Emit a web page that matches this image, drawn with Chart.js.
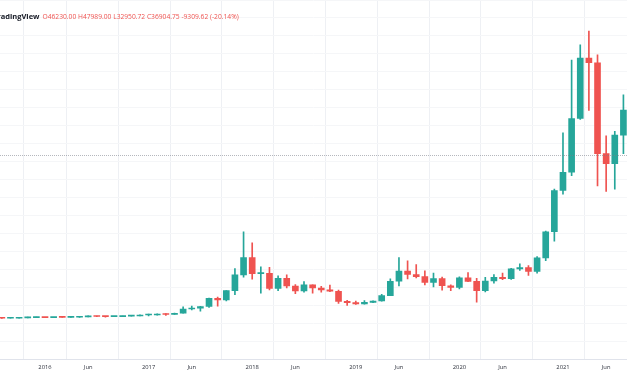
<!DOCTYPE html>
<html>
<head>
<meta charset="utf-8">
<script src="https://cdn.jsdelivr.net/npm/chart.js@4.4.0/dist/chart.umd.min.js"></script>
<style>
  html, body { margin: 0; padding: 0; background: #fff; }
  #wrap { position: relative; width: 627px; height: 376px; overflow: hidden; }
  #head { position: absolute; left: -7px; top: 2px; white-space: nowrap; font-family: "Open Sans", sans-serif; }
  #head .logo { font-size: 7.5px; font-weight: bold; color: #131722; }
  #head .ohlc { font-size: 6.7px; color: #ef5350; margin-left: 3px; }
</style>
</head>
<body>
<div id="wrap">
  <canvas id="btcChart" width="627" height="376"></canvas>
  <div id="head"><span class="logo">TradingView</span><span class="ohlc">O46230.00 H47989.00 L32950.72 C36904.75 -9309.62 (-20.14%)</span></div>
</div>
<script>
// monthly BTCUSD candles, Aug 2015 - Aug 2021
var months = [
  '2015-08','2015-09','2015-10','2015-11','2015-12',
  '2016-01','2016-02','2016-03','2016-04','2016-05','2016-06','2016-07','2016-08','2016-09','2016-10','2016-11','2016-12',
  '2017-01','2017-02','2017-03','2017-04','2017-05','2017-06','2017-07','2017-08','2017-09','2017-10','2017-11','2017-12',
  '2018-01','2018-02','2018-03','2018-04','2018-05','2018-06','2018-07','2018-08','2018-09','2018-10','2018-11','2018-12',
  '2019-01','2019-02','2019-03','2019-04','2019-05','2019-06','2019-07','2019-08','2019-09','2019-10','2019-11','2019-12',
  '2020-01','2020-02','2020-03','2020-04','2020-05','2020-06','2020-07','2020-08','2020-09','2020-10','2020-11','2020-12',
  '2021-01','2021-02','2021-03','2021-04','2021-05','2021-06','2021-07','2021-08'
];
var opens = [
  284, 230, 236, 314, 378,
  430, 369, 437, 416, 448, 531, 673, 624, 575, 609, 700, 742,
  963, 968, 1190, 1079, 1350, 2303, 2480, 2875, 4735, 4340, 6440, 10000,
  13880, 10265, 10330, 6925, 9240, 7495, 6390, 7730, 7030, 6625, 6300, 4020,
  3740, 3460, 3810, 4100, 5320, 8560, 10820, 10080, 9600, 8290, 9150, 7540,
  7190, 9350, 8540, 6410, 8620, 9450, 9140, 11330, 11650, 10780, 13800, 19700,
  28990, 33100, 45200, 58800, 57750, 37300, 35040, 41460
];
var highs = [
  287, 245, 334, 495, 466,
  462, 448, 440, 467, 553, 780, 704, 630, 628, 720, 756, 980,
  1154, 1200, 1300, 1365, 2790, 2980, 2920, 4760, 4980, 6470, 11400, 19666,
  17180, 11790, 11710, 9760, 9990, 7780, 8500, 7760, 7410, 7680, 6580, 4240,
  4110, 4200, 4140, 5600, 9080, 13880, 13130, 12330, 10900, 10370, 9510, 7750,
  9570, 10500, 9190, 9460, 10070, 10380, 11440, 12470, 12070, 14100, 19860, 29300,
  41950, 58350, 61780, 64850, 59500, 41300, 42300, 50500
];
var lows = [
  199, 225, 235, 304, 350,
  352, 365, 394, 413, 436, 527, 595, 465, 569, 605, 674, 741,
  752, 932, 891, 1068, 1347, 2080, 1830, 2670, 2970, 4110, 5510, 9500,
  9035, 5880, 6600, 6430, 7030, 5780, 6070, 5880, 6110, 6200, 3560, 3120,
  3350, 3400, 3730, 4070, 5320, 7510, 9070, 9330, 7730, 7300, 6520, 6430,
  6850, 8450, 3850, 6150, 8110, 8900, 8980, 10980, 9880, 10400, 13200, 17600,
  28130, 32300, 45000, 47000, 30000, 28800, 29300, 37300
];
var closes = [
  230, 236, 314, 378, 430,
  369, 437, 416, 448, 531, 673, 624, 575, 609, 700, 742, 963,
  968, 1190, 1079, 1350, 2303, 2480, 2875, 4735, 4340, 6440, 10000, 13880,
  10265, 10330, 6925, 9240, 7495, 6390, 7730, 7030, 6625, 6300, 4020, 3740,
  3460, 3810, 4100, 5320, 8560, 10820, 10080, 9600, 8290, 9150, 7540, 7190,
  9350, 8540, 6410, 8620, 9450, 9140, 11330, 11650, 10780, 13800, 19700, 28990,
  33100, 45200, 58800, 57750, 37300, 35040, 41460, 47100
];
var lastClose = 36904.75;

// time axis labels (month index counted from Jan 2016)
var tickMonths = [0, 5, 12, 17, 24, 29, 36, 41, 48, 53, 60, 65];
var tickLabels = ['2016', 'Jun', '2017', 'Jun', '2018', 'Jun', '2019', 'Jun', '2020', 'Jun', '2021', 'Jun'];

var upColor = '#26a69a';
var downColor = '#ef5350';

function monthIndex(s) {
    var p = s.split('-');
    return (parseInt(p[0]) - 2016) * 12 + parseInt(p[1]) - 1;
}

var xs = months.map(monthIndex);
var candleColors = opens.map((o, i) => closes[i] >= o ? upColor : downColor);

var priceLine = {
    id: 'priceLine',
    afterDatasetsDraw(chart) {
        var ctx = chart.ctx;
        var area = chart.chartArea;
        var y = Math.round(chart.scales.y.getPixelForValue(lastClose)) + 0.5;
        ctx.save();
        ctx.strokeStyle = 'rgba(120, 123, 134, 0.55)';
        ctx.lineWidth = 1;
        ctx.setLineDash([1, 1]);
        ctx.beginPath();
        ctx.moveTo(area.left, y);
        ctx.lineTo(area.right, y);
        ctx.stroke();
        ctx.restore();
    }
};

var ctx = document.getElementById('btcChart').getContext('2d');
var btcChart = new Chart(ctx, {
    type: 'bar',
    data: {
        datasets: [{
            label: 'body',
            data: xs.map((x, i) => ({ x: x, y: [opens[i], closes[i]] })),
            backgroundColor: candleColors,
            barThickness: 6,
            minBarLength: 1,
            grouped: false
        }, {
            label: 'wick',
            data: xs.map((x, i) => ({ x: x, y: [lows[i], highs[i]] })),
            backgroundColor: candleColors,
            barThickness: 1,
            grouped: false
        }]
    },
    options: {
        responsive: false,
        animation: false,
        devicePixelRatio: 1,
        layout: { padding: { left: 0, right: 0, top: 0, bottom: 2 } },
        plugins: {
            legend: { display: false },
            tooltip: { enabled: false }
        },
        scales: {
            x: {
                type: 'linear',
                min: -5.213,
                max: 67.415,
                offset: false,
                grid: { color: '#eef0f4', drawTicks: false },
                border: { display: true, color: '#e0e3eb' },
                afterBuildTicks: function(scale) {
                    scale.ticks = tickMonths.map(v => ({ value: v }));
                },
                ticks: {
                    autoSkip: false,
                    maxRotation: 0,
                    padding: 3.6,
                    color: '#2a2e39',
                    font: { family: 'Open Sans', size: 5.8 },
                    callback: function(value) {
                        var k = tickMonths.indexOf(value);
                        return k >= 0 ? tickLabels[k] : '';
                    }
                }
            },
            y: {
                min: -9135,
                max: 71865,
                grid: { color: '#f5f6f8', drawTicks: false },
                border: { display: false },
                ticks: { display: false, stepSize: 4000 }
            }
        }
    },
    plugins: [priceLine]
});
</script>
</body>
</html>
